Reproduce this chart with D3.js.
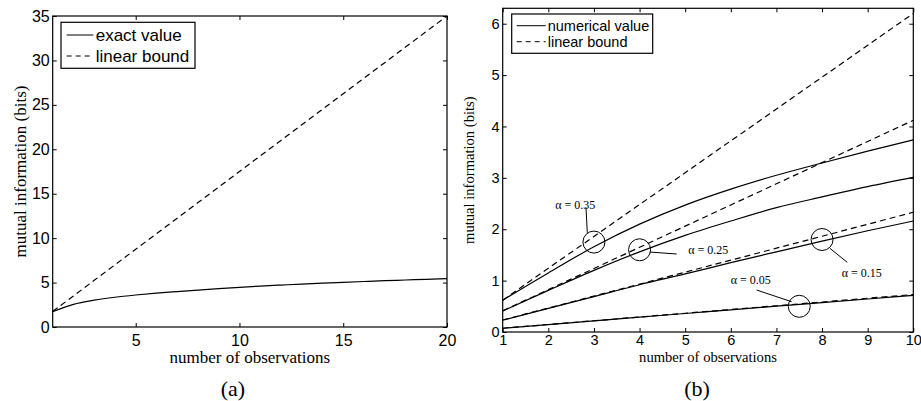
<!DOCTYPE html>
<html>
<head>
<meta charset="utf-8">
<script src="https://cdn.jsdelivr.net/npm/d3@7"></script>
<style>
  body { margin: 0; background: #fff; }
  svg { display: block; }
  .tick text { font-family: "Liberation Sans", Arial, sans-serif; fill: #000; }
  .tick line { stroke: #000; }
</style>
</head>
<body>
<div id="container"></div>
<script>
/* ---------------- DATA ---------------- */
const obsA = [1, 2, 3, 4, 5, 6, 7, 8, 9, 10, 11, 12, 13, 14, 15, 16, 17, 18, 19, 20];
const exactA = [1.72, 2.55, 3.02, 3.35, 3.6, 3.81, 3.99, 4.16, 4.32, 4.47,
                4.6, 4.72, 4.83, 4.93, 5.03, 5.12, 5.21, 5.29, 5.37, 5.44];
const boundA = [1.75, 3.5, 5.25, 7, 8.75, 10.5, 12.25, 14, 15.75, 17.5,
                19.25, 21, 22.75, 24.5, 26.25, 28, 29.75, 31.5, 33.25, 35];

const obsB = [1, 2, 3, 4, 5, 6, 7, 8, 9, 10];
const alphas = ["0.35", "0.25", "0.15", "0.05"];
const numB = {
  "0.35": [0.62, 1.15, 1.66, 2.1, 2.47, 2.78, 3.05, 3.29, 3.52, 3.74],
  "0.25": [0.41, 0.81, 1.2, 1.56, 1.88, 2.16, 2.42, 2.63, 2.83, 3.01],
  "0.15": [0.23, 0.46, 0.69, 0.92, 1.13, 1.35, 1.56, 1.77, 1.97, 2.16],
  "0.05": [0.073, 0.145, 0.217, 0.289, 0.36, 0.431, 0.502, 0.572, 0.642, 0.712]
};
const boundB = {
  "0.35": [0.62, 1.24, 1.86, 2.48, 3.1, 3.72, 4.34, 4.96, 5.58, 6.2],
  "0.25": [0.412, 0.824, 1.236, 1.648, 2.06, 2.472, 2.884, 3.296, 3.708, 4.12],
  "0.15": [0.233, 0.466, 0.699, 0.932, 1.165, 1.398, 1.631, 1.864, 2.097, 2.33],
  "0.05": [0.073, 0.146, 0.219, 0.292, 0.365, 0.438, 0.511, 0.584, 0.657, 0.73]
};

// annotation: circle centre, pointer line and label start, all in data units
const notes = [
  { a: "0.35", cx: 3, cy: 1.75, x1: 2.854, y1: 1.93, x2: 2.825, y2: 2.43, tx: 2.15, ty: 2.39 },
  { a: "0.25", cx: 4, cy: 1.6, x1: 4.228, y1: 1.556, x2: 4.813, y2: 1.518, tx: 5.068, ty: 1.51 },
  { a: "0.15", cx: 8, cy: 1.8, x1: 8.173, y1: 1.628, x2: 8.552, y2: 1.356, tx: 8.429, ty: 1.08 },
  { a: "0.05", cx: 7.5, cy: 0.5, x1: 6.566, y1: 0.817, x2: 7.334, y2: 0.589, tx: 5.997, ty: 0.93 }
];

const ticksAx = [5, 10, 15, 20];
const ticksAy = [0, 5, 10, 15, 20, 25, 30, 35];
const ticksBx = [1, 2, 3, 4, 5, 6, 7, 8, 9, 10];
const ticksBy = [0, 1, 2, 3, 4, 5, 6];

/* ---------------- SETUP ---------------- */
const W = 921, H = 401;
const svg = d3.select("#container").append("svg")
  .attr("width", W)
  .attr("height", H);

const serif = "'Liberation Serif', 'Times New Roman', serif";
const sans = "'Liberation Sans', Arial, sans-serif";

function panel(p) {
  const x = d3.scaleLinear().domain(p.xd).range([p.l, p.r]);
  const y = d3.scaleLinear().domain(p.yd).range([p.b, p.t]);

  const axes = [
    [d3.axisBottom(x).tickValues(p.xt), `translate(0,${p.b})`, true, p.padX],
    [d3.axisTop(x).tickValues(p.xt), `translate(0,${p.t})`, false, 0],
    [d3.axisLeft(y).tickValues(p.yt), `translate(${p.l},0)`, true, p.padY],
    [d3.axisRight(y).tickValues(p.yt), `translate(${p.r},0)`, false, 0]
  ];
  axes.forEach(([ax, tr, lab, pad]) => {
    ax.tickSizeInner(-4).tickSizeOuter(0).tickPadding(pad)
      .tickFormat(lab ? d3.format("d") : "");
    const g = svg.append("g").attr("transform", tr).call(ax);
    g.select(".domain").remove();
    g.selectAll("text").style("font-size", p.fs + "px");
  });

  svg.append("rect")
    .attr("x", p.l).attr("y", p.t)
    .attr("width", p.r - p.l).attr("height", p.b - p.t)
    .attr("fill", "none").attr("stroke", "#000").attr("stroke-width", 1.2);

  svg.append("text")
    .attr("x", (p.l + p.r) / 2).attr("y", p.xlY)
    .attr("text-anchor", "middle")
    .style("font-family", serif).style("font-size", p.lfs + "px")
    .text("number of observations");

  svg.append("text")
    .attr("transform", `translate(${p.ylX},${(p.t + p.b) / 2}) rotate(-90)`)
    .attr("text-anchor", "middle")
    .style("font-family", serif).style("font-size", p.lfs + "px")
    .text("mutual information (bits)");

  svg.append("text")
    .attr("x", (p.l + p.r) / 2 + p.capOff).attr("y", 396)
    .attr("text-anchor", "middle")
    .style("font-family", serif).style("font-size", "22px")
    .text(p.cap);

  return { x, y };
}

function drawLine(sc, xs, ys, dashed, curve) {
  const line = d3.line()
    .x((d, i) => sc.x(xs[i]))
    .y(d => sc.y(d))
    .curve(curve ? d3.curveMonotoneX : d3.curveLinear);
  svg.append("path")
    .datum(ys)
    .attr("d", line)
    .attr("fill", "none")
    .attr("stroke", "#000")
    .attr("stroke-width", 1.2)
    .attr("stroke-dasharray", dashed ? "6,4" : null);
}

function legend(box, rows, fs) {
  svg.append("rect")
    .attr("x", box.x).attr("y", box.y)
    .attr("width", box.w).attr("height", box.h)
    .attr("fill", "#fff").attr("stroke", "#000").attr("stroke-width", 1.2);
  rows.forEach((r, i) => {
    const yy = box.y + box.r0 + i * box.dy;
    svg.append("line")
      .attr("x1", box.x + box.lx1).attr("x2", box.x + box.lx2)
      .attr("y1", yy).attr("y2", yy)
      .attr("stroke", "#000").attr("stroke-width", 1)
      .attr("stroke-dasharray", r.dashed ? "5,4" : null);
    svg.append("text")
      .attr("x", box.x + box.tx).attr("y", yy + fs * 0.38)
      .style("font-family", sans).style("font-size", fs + "px")
      .text(r.label);
  });
}

/* ---------------- PANEL (a) ---------------- */
const scA = panel({
  l: 52.7, r: 447, t: 16, b: 327,
  xd: [1, 20], yd: [0, 35], xt: ticksAx, yt: ticksAy,
  fs: 16, padX: 8, padY: 3, lfs: 17, xlY: 363, ylX: 26, cap: "(a)", capOff: -17
});
drawLine(scA, obsA, boundA, true, false);
drawLine(scA, obsA, exactA, false, true);
legend({ x: 61, y: 22.3, w: 134, h: 46, r0: 12.7, dy: 21, lx1: 5.7, lx2: 32.3, tx: 34.7 },
  [{ label: "exact value", dashed: false }, { label: "linear bound", dashed: true }], 17);

/* ---------------- PANEL (b) ---------------- */
const scB = panel({
  l: 502.7, r: 913.3, t: 8.3, b: 332,
  xd: [1, 10], yd: [0, 6.3], xt: ticksBx, yt: ticksBy,
  fs: 14.5, padX: 3, padY: 3, lfs: 14.6, xlY: 362, ylX: 474, cap: "(b)", capOff: -11
});
alphas.forEach(a => {
  drawLine(scB, obsB, boundB[a], true, false);
  drawLine(scB, obsB, numB[a], false, true);
});
legend({ x: 511.7, y: 14, w: 141, h: 39.3, r0: 11.7, dy: 16, lx1: 5, lx2: 34, tx: 36 },
  [{ label: "numerical value", dashed: false }, { label: "linear bound", dashed: true }], 14.5);

notes.forEach(n => {
  svg.append("circle")
    .attr("cx", scB.x(n.cx)).attr("cy", scB.y(n.cy)).attr("r", 11)
    .attr("fill", "none").attr("stroke", "#000").attr("stroke-width", 1);
  svg.append("line")
    .attr("x1", scB.x(n.x1)).attr("y1", scB.y(n.y1))
    .attr("x2", scB.x(n.x2)).attr("y2", scB.y(n.y2))
    .attr("stroke", "#000").attr("stroke-width", 1);
  svg.append("text")
    .attr("x", scB.x(n.tx)).attr("y", scB.y(n.ty))
    .style("font-family", serif).style("font-size", "12px")
    .text("\u03b1 = " + n.a);
});
</script>
</body>
</html>
